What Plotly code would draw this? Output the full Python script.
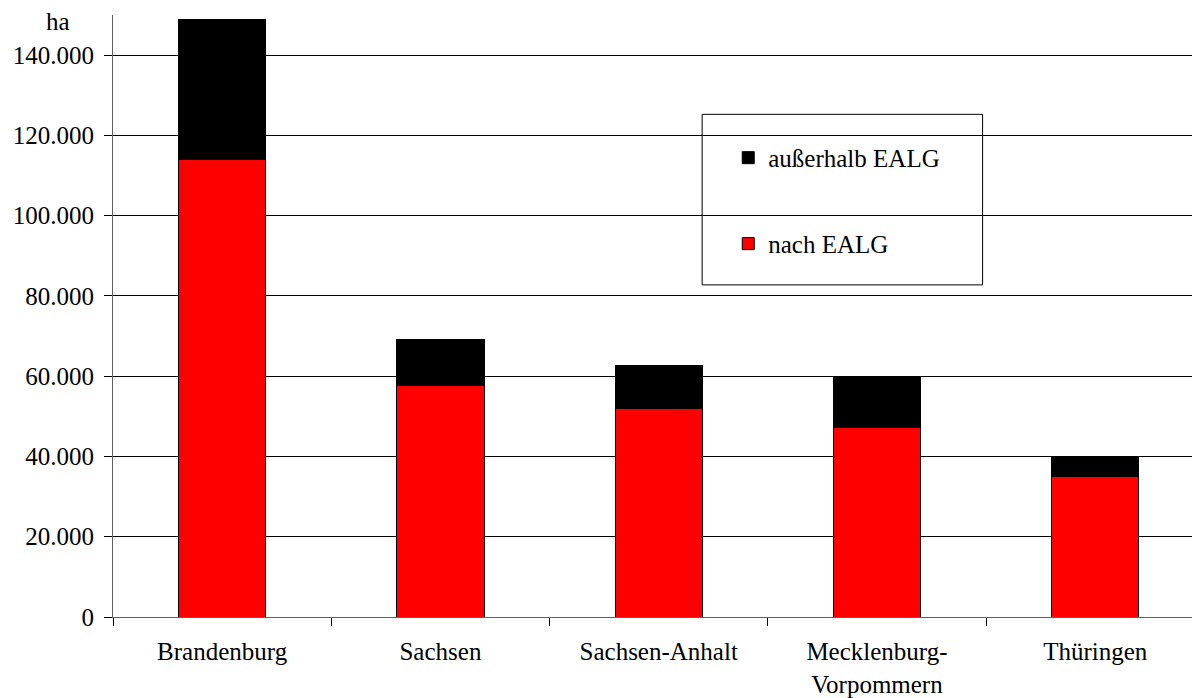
import plotly.graph_objects as go

categories = ["Brandenburg", "Sachsen", "Sachsen-Anhalt", "Mecklenburg-<br>Vorpommern", "Thüringen"]
nach_ealg = [114000, 57600, 51900, 47200, 35000]
ausserhalb_ealg = [35000, 11500, 10700, 12800, 5000]
y_ticks = [0, 20000, 40000, 60000, 80000, 100000, 120000, 140000]

FONT = "Liberation Serif, Times New Roman, serif"
FS = 25

fig = go.Figure()
fig.add_trace(go.Bar(
    x=categories, y=nach_ealg, name="nach EALG",
    marker=dict(color="#ff0000", line=dict(color="#000000", width=1)),
    width=0.4, legend="legend2",
))
fig.add_trace(go.Bar(
    x=categories, y=ausserhalb_ealg, name="außerhalb EALG",
    marker=dict(color="#000000", line=dict(color="#000000", width=1)),
    width=0.4, legend="legend",
))

legend_common = dict(
    font=dict(family=FONT, size=FS, color="#000000"),
    bgcolor="rgba(0,0,0,0)", borderwidth=0,
    xanchor="left", yanchor="middle", itemclick=False,
)

fig.update_layout(
    width=1192, height=690,
    barmode="stack",
    separators=",.",
    showlegend=True,
    paper_bgcolor="#ffffff", plot_bgcolor="#ffffff",
    margin=dict(l=105, r=0, t=7, b=81, autoexpand=False),
    font=dict(family=FONT, size=FS, color="#000000"),
    legend=dict(x=0.566, y=0.7626, visible=True, **legend_common),
    legend2=dict(x=0.566, y=0.6198, visible=True, **legend_common),
    shapes=[dict(type="rect", xref="paper", yref="paper",
                 x0=0.542, x1=0.800, y0=0.5517, y1=0.835,
                 line=dict(color="#000000", width=1), fillcolor="#ffffff",
                 layer="between")],
    annotations=[dict(text="ha", xref="paper", yref="paper", x=-0.0506, y=0.990,
                      xanchor="center", yanchor="middle", showarrow=False,
                      font=dict(family=FONT, size=FS, color="#000000"))],
)

fig.update_xaxes(
    type="category", range=[-0.5, 4.48], automargin=False,
    showline=True, linecolor="#606060", linewidth=1,
    ticks="outside", tickson="boundaries", ticklen=8, tickcolor="#000000", tickwidth=1,
    ticklabelstandoff=12,
    showgrid=False, zeroline=False,
    tickfont=dict(family=FONT, size=FS, color="#000000"),
)
fig.update_yaxes(
    range=[0, 150000], tickvals=y_ticks, tickformat=",d", automargin=False,
    showline=True, linecolor="#606060", linewidth=1,
    ticks="outside", ticklen=8, tickcolor="#000000", tickwidth=1,
    ticklabelstandoff=5,
    showgrid=True, gridcolor="#000000", gridwidth=1, zeroline=False,
    tickfont=dict(family=FONT, size=FS, color="#000000"),
)

fig.write_html("out.html")
